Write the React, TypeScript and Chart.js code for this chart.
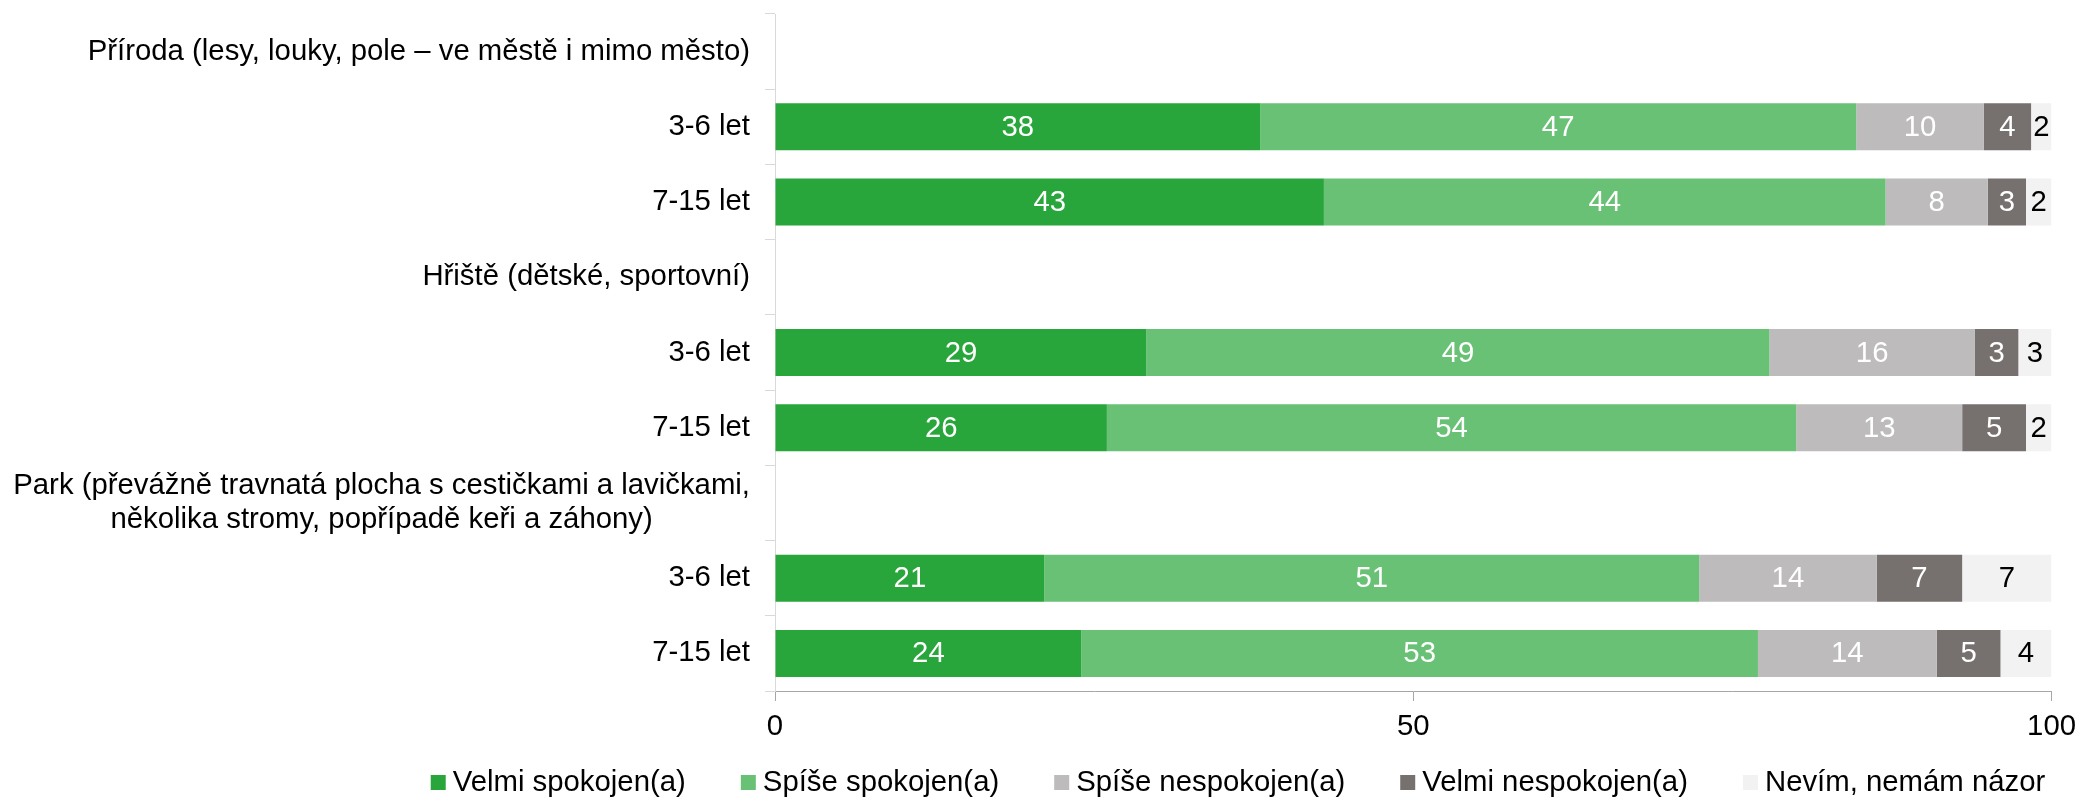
import React, { useEffect, useRef } from 'react';
import { Chart, registerables } from 'chart.js';

Chart.register(...registerables);

const FONT = '"Liberation Sans", Arial, Helvetica, sans-serif';
const FONT_SIZE = 29.33;

const categories: (string | string[])[] = [
  'Příroda (lesy, louky, pole – ve městě i mimo město)',
  '3-6 let',
  '7-15 let',
  'Hřiště (dětské, sportovní)',
  '3-6 let',
  '7-15 let',
  ['Park (převážně travnatá plocha s cestičkami a lavičkami,', 'několika stromy, popřípadě keři a záhony)'],
  '3-6 let',
  '7-15 let',
];

const seriesNames = [
  'Velmi spokojen(a)',
  'Spíše spokojen(a)',
  'Spíše nespokojen(a)',
  'Velmi nespokojen(a)',
  'Nevím, nemám názor',
];

const velmiSpokojen = [null, 38.0, 43.0, null, 29.1, 26.0, null, 21.1, 24.0];
const spiseSpokojen = [null, 46.7, 44.0, null, 48.8, 54.0, null, 51.3, 53.0];
const spiseNespokojen = [null, 10.0, 8.0, null, 16.1, 13.0, null, 13.9, 14.0];
const velmiNespokojen = [null, 3.7, 3.0, null, 3.4, 5.0, null, 6.7, 5.0];
const nevim = [null, 1.6, 2.0, null, 2.6, 2.0, null, 7.0, 4.0];

const seriesValues = [velmiSpokojen, spiseSpokojen, spiseNespokojen, velmiNespokojen, nevim];
const seriesColors = ['#29A63B', '#68C175', '#BDBBBB', '#76716F', '#F2F2F2'];
const labelColors = ['#FFFFFF', '#FFFFFF', '#FFFFFF', '#FFFFFF', '#000000'];

const X_MIN = 0;
const X_MAX = 100;
const X_STEP = 50;

const yLabelPlugin = {
  id: 'customYLabels',
  afterDraw(chart: any) {
    const ctx = chart.ctx;
    const y = chart.scales.y;
    ctx.save();
    ctx.font = `${FONT_SIZE}px ${FONT}`;
    ctx.fillStyle = '#000000';
    ctx.textBaseline = 'middle';
    ctx.textAlign = 'center';
    const right = chart.chartArea.left - 25;
    (chart.data.labels as (string | string[])[]).forEach((lab, i) => {
      const py = y.getPixelForValue(i);
      const lines = Array.isArray(lab) ? lab : [lab];
      const widest = Math.max(...lines.map((l) => ctx.measureText(l).width));
      const cx = right - widest / 2;
      lines.forEach((l, k) => {
        ctx.fillText(l, cx, py + (k - (lines.length - 1) / 2) * 33.5);
      });
    });
    ctx.restore();
  },
};

const dataLabelPlugin = {
  id: 'segmentLabels',
  afterDatasetsDraw(chart: any) {
    const ctx = chart.ctx;
    ctx.save();
    ctx.font = `${FONT_SIZE}px ${FONT}`;
    ctx.textAlign = 'center';
    ctx.textBaseline = 'middle';
    chart.data.datasets.forEach((ds: any, di: number) => {
      const meta = chart.getDatasetMeta(di);
      meta.data.forEach((el: any, i: number) => {
        const v = ds.data[i];
        if (v === null || v === undefined) return;
        const { x, y, base } = el.getProps(['x', 'y', 'base'], true);
        ctx.fillStyle = labelColors[di];
        ctx.fillText(String(Math.round(v)), (x + base) / 2, y + 1);
      });
    });
    ctx.restore();
  },
};

const LEGEND_CENTER_X = 1238;
const legendPlugin = {
  id: 'bottomLegend',
  afterDraw(chart: any) {
    const ctx = chart.ctx;
    ctx.save();
    ctx.font = `${FONT_SIZE}px ${FONT}`;
    ctx.textBaseline = 'middle';
    ctx.textAlign = 'left';
    const box = 15;
    const gapText = 7;
    const gapItem = 55;
    const items = chart.data.datasets.map((ds: any) => ({
      text: ds.label as string,
      color: ds.backgroundColor as string,
      w: ctx.measureText(ds.label).width,
    }));
    const total =
      items.reduce((s: number, it: any) => s + box + gapText + it.w, 0) + gapItem * (items.length - 1);
    let x = LEGEND_CENTER_X - total / 2;
    const cy = chart.height - 16.5;
    items.forEach((it: any) => {
      ctx.fillStyle = it.color;
      ctx.fillRect(x, cy - box / 2, box, box);
      ctx.fillStyle = '#000000';
      ctx.fillText(it.text, x + box + gapText, cy);
      x += box + gapText + it.w + gapItem;
    });
    ctx.restore();
  },
};

export default function App() {
  const canvasRef = useRef<HTMLCanvasElement | null>(null);

  useEffect(() => {
    document.body.style.margin = '0';
    document.body.style.overflow = 'hidden';
    document.documentElement.style.overflow = 'hidden';
    if (!canvasRef.current) return;
    Chart.defaults.font.family = FONT;
    const chart = new Chart(canvasRef.current, {
      type: 'bar',
      data: {
        labels: categories as any,
        datasets: seriesNames.map((name, i) => ({
          label: name,
          data: seriesValues[i] as any,
          backgroundColor: seriesColors[i],
          borderWidth: 0,
          barPercentage: 0.625,
          categoryPercentage: 1,
        })),
      },
      options: {
        indexAxis: 'y',
        responsive: false,
        animation: false,
        devicePixelRatio: 1,
        layout: { padding: { top: 14, right: 28, bottom: 54, left: 0 } },
        plugins: {
          legend: { display: false },
          tooltip: { enabled: false },
        },
        scales: {
          x: {
            stacked: true,
            min: X_MIN,
            max: X_MAX,
            ticks: {
              stepSize: X_STEP,
              color: '#000000',
              font: { family: FONT, size: FONT_SIZE },
              padding: 8,
              maxRotation: 0,
            },
            grid: { drawOnChartArea: false, drawTicks: true, tickLength: 10, color: '#A6A6A6' },
            border: { color: '#A6A6A6' },
            afterFit: (s: any) => {
              s.height = 54;
            },
          },
          y: {
            stacked: true,
            offset: true,
            ticks: { display: false },
            grid: { offset: true, drawOnChartArea: false, drawTicks: true, tickLength: 10, color: '#D9D9D9' },
            border: { color: '#D9D9D9' },
            afterFit: (s: any) => {
              s.width = 775;
            },
          },
        },
      },
      plugins: [dataLabelPlugin, yLabelPlugin, legendPlugin],
    });
    return () => chart.destroy();
  }, []);

  return (
    <div style={{ width: 2084, height: 799, position: 'absolute', left: 0, top: 0, overflow: 'hidden' }}>
      <canvas ref={canvasRef} width={2084} height={799} style={{ display: 'block', width: 2084, height: 799 }} />
    </div>
  );
}
